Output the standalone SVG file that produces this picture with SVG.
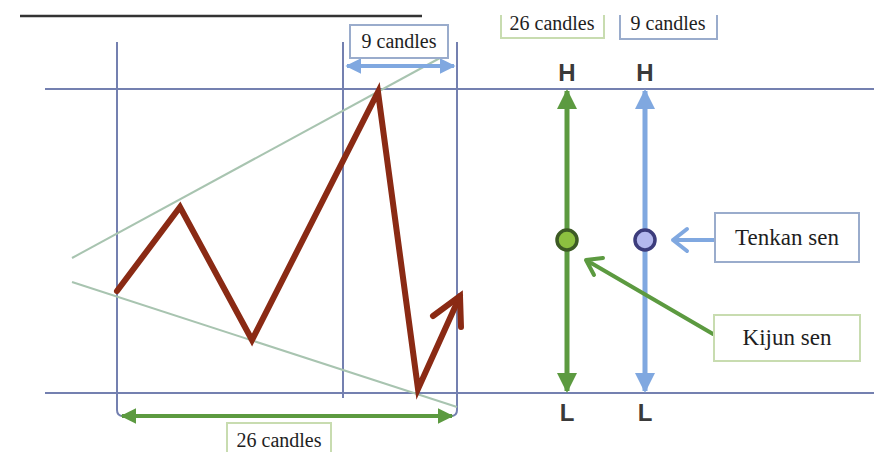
<svg xmlns="http://www.w3.org/2000/svg" width="874" height="452" viewBox="0 0 874 452">
<style>
.frame{stroke:#7480b0;stroke-width:2;fill:none}
.trend{stroke:#a8c4b0;stroke-width:2;fill:none}
.price{stroke:#8a2a14;stroke-width:6;fill:none;stroke-linejoin:miter;stroke-linecap:round}
.green{stroke:#5c9a40;fill:none}
.blue{stroke:#80a8e0;fill:none}
.lbl{font-family:"Liberation Serif",serif;fill:#1e1e1e}
.hl{font-family:"Liberation Sans",sans-serif;font-size:24px;font-weight:bold;fill:#3a3a3a;text-anchor:middle}
.boxg{fill:#fff;stroke:#c8dcb0;stroke-width:2}
.boxb{fill:#fff;stroke:#9aaccc;stroke-width:2}
</style>
<defs>
<marker id="ag" viewBox="0 0 10 10" refX="9" refY="5" markerWidth="4" markerHeight="4" orient="auto-start-reverse" markerUnits="strokeWidth"><path d="M0,0 L10,5 L0,10 z" fill="#5c9a40"/></marker>
<marker id="ab" viewBox="0 0 10 10" refX="9" refY="5" markerWidth="4" markerHeight="4" orient="auto-start-reverse" markerUnits="strokeWidth"><path d="M0,0 L10,5 L0,10 z" fill="#80a8e0"/></marker>
</defs>
<rect width="874" height="452" fill="#fff"/>
<line x1="20" y1="16" x2="422" y2="16" stroke="#333" stroke-width="2.5"/>
<g id="frame">
<line class="frame" x1="45" y1="89" x2="874" y2="89"/>
<line class="frame" x1="45" y1="393" x2="874" y2="393"/>
<path class="frame" d="M117,42 V410 Q117,416 123,416"/>
<line class="frame" x1="343" y1="42" x2="343" y2="398"/>
<path class="frame" d="M457,42 V410 Q457,416 451,416"/>
</g>
<g id="trendlines">
<line class="trend" x1="72" y1="258" x2="440" y2="58"/>
<line class="trend" x1="72" y1="282" x2="457" y2="407"/>
</g>
<g id="price">
<polyline class="price" points="117,291 180,207 252,340 378,92 418,389 460,296"/>
<polyline class="price" points="433,316 460,296 461,327"/>
</g>
<g id="connectors">
<line class="green" stroke-width="4" x1="122" y1="416" x2="452" y2="416" marker-start="url(#ag)" marker-end="url(#ag)"/>
<line class="blue" stroke-width="4" x1="347" y1="66" x2="454" y2="66" marker-start="url(#ab)" marker-end="url(#ab)"/>
<line class="green" stroke-width="5" x1="567" y1="91" x2="567" y2="391" marker-start="url(#ag)" marker-end="url(#ag)"/>
<line class="blue" stroke-width="5" x1="645" y1="91" x2="645" y2="391" marker-start="url(#ab)" marker-end="url(#ab)"/>
<path class="blue" stroke-width="4" stroke-linecap="round" stroke-linejoin="round" d="M715,240 H673 M687,229 L673,240 L687,251"/>
<path class="green" stroke-width="4" stroke-linecap="round" stroke-linejoin="round" d="M713,334 L586,260 M603,258 L586,260 L594,275"/>
</g>
<g id="kijun-dot"><circle cx="567" cy="240" r="10" fill="#8cc040" stroke="#3c5a24" stroke-width="3.5"/></g>
<g id="tenkan-dot"><circle cx="645" cy="240" r="10" fill="#b4b8ee" stroke="#3c3c7c" stroke-width="3.5"/></g>
<g id="label-9-top">
<rect class="boxb" x="350" y="25" width="98" height="33"/>
<text class="lbl" x="399" y="48" font-size="20" text-anchor="middle">9 candles</text>
</g>
<g id="label-26-right">
<path class="boxg" d="M501,15 V38 H604 V15"/>
<text class="lbl" x="552" y="30" font-size="20" text-anchor="middle">26 candles</text>
</g>
<g id="label-9-right">
<path class="boxb" d="M620,15 V39 H717 V15"/>
<text class="lbl" x="668" y="30" font-size="20" text-anchor="middle">9 candles</text>
</g>
<g id="hl-labels">
<text class="hl" x="567" y="81">H</text>
<text class="hl" x="645" y="81">H</text>
<text class="hl" x="567" y="421">L</text>
<text class="hl" x="645" y="421">L</text>
</g>
<g id="tenkan-box">
<rect class="boxb" x="715" y="213" width="144" height="49"/>
<text class="lbl" x="787" y="245" font-size="23" text-anchor="middle">Tenkan sen</text>
</g>
<g id="kijun-box">
<rect class="boxg" x="714" y="315" width="146" height="46"/>
<text class="lbl" x="787" y="345" font-size="23" text-anchor="middle">Kijun sen</text>
</g>
<g id="label-26-bottom">
<rect class="boxg" x="227" y="423" width="104" height="35"/>
<text class="lbl" x="279" y="447" font-size="20" text-anchor="middle">26 candles</text>
</g>
</svg>
